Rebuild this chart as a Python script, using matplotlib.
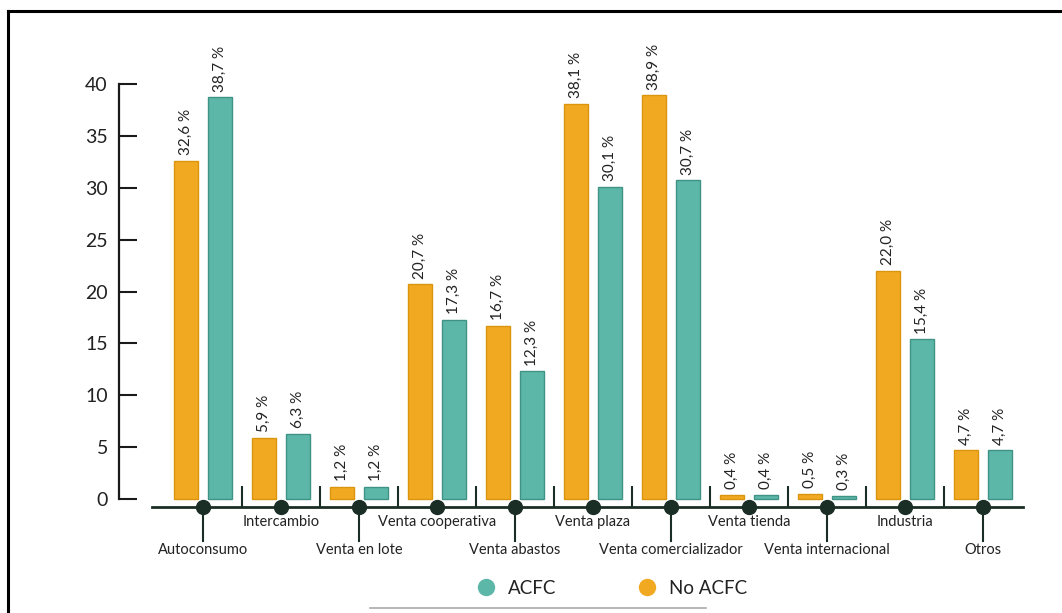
import matplotlib
matplotlib.use("Agg")
import matplotlib.pyplot as plt
from matplotlib.lines import Line2D

categories = ["Autoconsumo", "Intercambio", "Venta en lote", "Venta cooperativa",
              "Venta abastos", "Venta plaza", "Venta comercializador", "Venta tienda",
              "Venta internacional", "Industria", "Otros"]
no_acfc = [32.6, 5.9, 1.2, 20.7, 16.7, 38.1, 38.9, 0.4, 0.5, 22.0, 4.7]
acfc = [38.7, 6.3, 1.2, 17.3, 12.3, 30.1, 30.7, 0.4, 0.3, 15.4, 4.7]
y_ticks = [0, 5, 10, 15, 20, 25, 30, 35, 40]
series_names = ["ACFC", "No ACFC"]

ORANGE = "#F2A922"
ORANGE_EDGE = "#DB940E"
TEAL = "#5DB7A9"
TEAL_EDGE = "#3E9385"
DARK = "#1B2E26"
TXT = "#222222"
FONT = "Lato"

W, H = 1062, 613
fig = plt.figure(figsize=(W / 100, H / 100), dpi=100)
ax = fig.add_axes([0, 0, 1, 1])
ax.patch.set_alpha(0)

px_per_cat = 78.0
x0_px = 203.0
y0_px = 499.0
px_per_unit = 10.375
ax.set_xlim(-x0_px / px_per_cat, (W - x0_px) / px_per_cat)
ax.set_ylim((y0_px - H) / px_per_unit, y0_px / px_per_unit)

def dy(px):
    return (y0_px - px) / px_per_unit

def dx(px):
    return (px - x0_px) / px_per_cat

n = len(categories)
xs = list(range(n))
bw = 0.31
off = 0.215
b1 = ax.bar([x - off for x in xs], no_acfc, width=bw, color=ORANGE,
            edgecolor=ORANGE_EDGE, linewidth=1.0, zorder=3)
b2 = ax.bar([x + off for x in xs], acfc, width=bw, color=TEAL,
            edgecolor=TEAL_EDGE, linewidth=1.0, zorder=3)

for bars, vals in ((b1, no_acfc), (b2, acfc)):
    for r, v in zip(bars, vals):
        ax.annotate(f"{v:.1f}".replace(".", ",") + " %",
                    (r.get_x() + r.get_width() / 2, v),
                    xytext=(0, 4), textcoords="offset points",
                    rotation=90, ha="center", va="bottom",
                    fontsize=11, color=TXT, family=FONT, zorder=4)

for s in ("top", "right"):
    ax.spines[s].set_visible(False)
ax.spines["left"].set_position(("data", dx(119)))
ax.spines["left"].set_bounds(0, 40)
ax.spines["left"].set_linewidth(1.6)
ax.spines["left"].set_color("#1a1a1a")
ax.spines["bottom"].set_position(("data", dy(507)))
ax.spines["bottom"].set_bounds(dx(152), dx(1023))
ax.spines["bottom"].set_linewidth(2.0)
ax.spines["bottom"].set_color(DARK)
ax.set_xticks([])
ax.set_yticks(y_ticks)
ax.set_yticklabels([str(t) for t in y_ticks], family=FONT, fontsize=14, color=TXT)
ax.tick_params(axis="y", direction="in", length=13, width=1.5, color="#1a1a1a", pad=8)

base = dy(507)
for i in range(n - 1):
    ax.plot([i + 0.5, i + 0.5], [base, dy(486)], color=DARK, lw=1.5,
            zorder=2, solid_capstyle="butt")

for i, name in enumerate(categories):
    if i % 2 == 0:
        ax.plot([i, i], [base, dy(541)], color=DARK, lw=1.5, zorder=2)
        ly = dy(550)
    else:
        ly = dy(522)
    ax.plot([i], [base], marker="o", markersize=10, color=DARK, zorder=5,
            clip_on=False)
    ax.text(i, ly, name, ha="center", va="center", fontsize=10.5,
            family=FONT, color=TXT)

handles = [Line2D([], [], ls="", marker="o", markersize=11.5, color=TEAL),
           Line2D([], [], ls="", marker="o", markersize=11.5, color=ORANGE)]
leg = fig.legend(handles, series_names, loc="center", ncol=2,
                 bbox_to_anchor=(612 / W, 1 - 588 / H), frameon=False,
                 handlelength=1.0, handletextpad=0.7, columnspacing=4.3,
                 borderpad=0, prop={"family": FONT, "size": 13.5})
for t in leg.get_texts():
    t.set_color(TXT)

fig.add_artist(Line2D([8 / W, 8 / W], [0, 1 - 11 / H], color="black", lw=2.2,
                      transform=fig.transFigure))
fig.add_artist(Line2D([8 / W, 1], [1 - 11 / H, 1 - 11 / H], color="black", lw=2.2,
                      transform=fig.transFigure))
fig.add_artist(Line2D([370 / W, 706 / W], [1 - 608 / H, 1 - 608 / H],
                      color="#aaaaaa", lw=1.2, transform=fig.transFigure))

fig.savefig("out.png", dpi=100, facecolor="white")
